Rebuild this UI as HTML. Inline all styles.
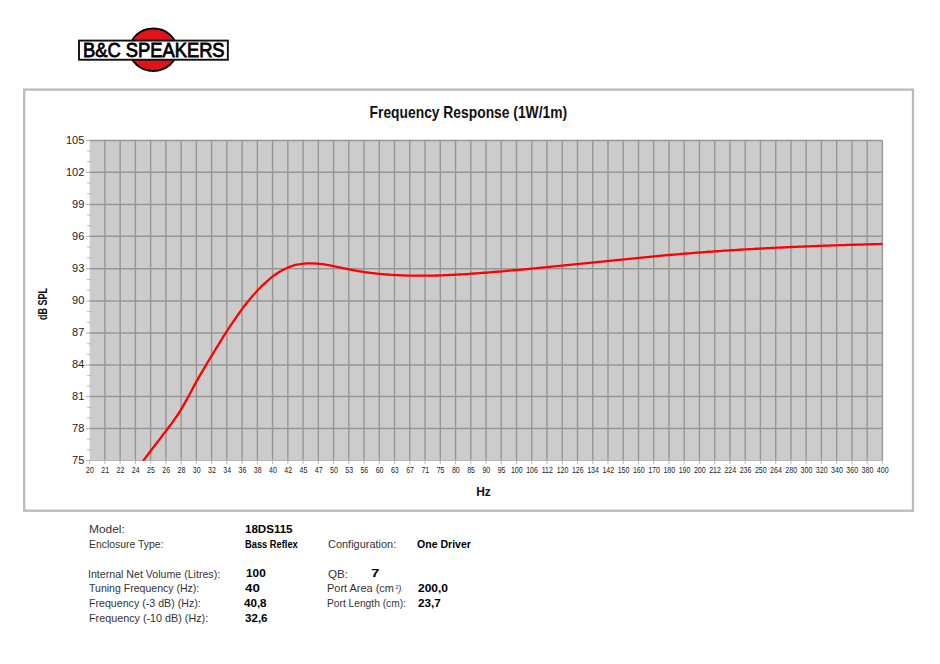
<!DOCTYPE html>
<html><head><meta charset="utf-8"><style>
html,body{margin:0;padding:0;background:#fff;}
body{width:940px;height:664px;position:relative;overflow:hidden;font-family:"Liberation Sans",sans-serif;}
svg{position:absolute;left:0;top:0;}
.xl{font-size:8.2px;fill:#222;text-anchor:middle;}
.yl{font-size:11px;fill:#222;text-anchor:end;}
.t{position:absolute;white-space:nowrap;color:#333;font-size:10.5px;line-height:12px;transform-origin:0 50%;}
.b{font-weight:bold;color:#000;font-size:11.2px;}
.s2{font-size:5px;position:relative;top:-3px;margin-left:1.5px;}
.s3{font-size:9px;font-style:italic;}
.s4{font-size:6px;font-style:italic;color:#777;}
</style></head><body>
<svg width="940" height="664" viewBox="0 0 940 664">
<g id="logo">
<ellipse cx="153.3" cy="49.75" rx="23.6" ry="21.2" fill="#e3121b" stroke="#000" stroke-width="1.9"/>
<rect x="79" y="40.6" width="148.85" height="19.15" fill="#fff" stroke="#111" stroke-width="1.9"/>
<text x="83.0" y="57.2" font-size="20" fill="#000" stroke="#000" stroke-width="0.8" textLength="141.6" lengthAdjust="spacingAndGlyphs">B&amp;C SPEAKERS</text>
</g>
<rect x="24.2" y="89.6" width="888.8" height="421.1" fill="none" stroke="#bababa" stroke-width="2.3"/><rect x="89.65" y="140.5" width="792.75" height="320.0" fill="#cccccc"/><path d="M104.90,140.5V460.5M120.14,140.5V460.5M135.39,140.5V460.5M150.63,140.5V460.5M165.88,140.5V460.5M181.12,140.5V460.5M196.37,140.5V460.5M211.61,140.5V460.5M226.86,140.5V460.5M242.10,140.5V460.5M257.35,140.5V460.5M272.59,140.5V460.5M287.84,140.5V460.5M303.08,140.5V460.5M318.33,140.5V460.5M333.57,140.5V460.5M348.82,140.5V460.5M364.06,140.5V460.5M379.31,140.5V460.5M394.55,140.5V460.5M409.80,140.5V460.5M425.04,140.5V460.5M440.29,140.5V460.5M455.53,140.5V460.5M470.78,140.5V460.5M486.02,140.5V460.5M501.27,140.5V460.5M516.52,140.5V460.5M531.76,140.5V460.5M547.01,140.5V460.5M562.25,140.5V460.5M577.50,140.5V460.5M592.74,140.5V460.5M607.99,140.5V460.5M623.23,140.5V460.5M638.48,140.5V460.5M653.72,140.5V460.5M668.97,140.5V460.5M684.21,140.5V460.5M699.46,140.5V460.5M714.70,140.5V460.5M729.95,140.5V460.5M745.19,140.5V460.5M760.44,140.5V460.5M775.68,140.5V460.5M790.93,140.5V460.5M806.17,140.5V460.5M821.42,140.5V460.5M836.66,140.5V460.5M851.91,140.5V460.5M867.15,140.5V460.5M882.40,140.5V460.5" stroke="#969696" stroke-width="1.4" fill="none"/><path d="M89.65,140.40H882.4M89.65,172.30H882.4M89.65,204.50H882.4M89.65,236.30H882.4M89.65,268.70H882.4M89.65,301.00H882.4M89.65,333.10H882.4M89.65,365.10H882.4M89.65,396.60H882.4M89.65,428.60H882.4" stroke="#969696" stroke-width="1.5" fill="none"/><path d="M86.15,140.40H89.65M86.15,172.30H89.65M86.15,204.50H89.65M86.15,236.30H89.65M86.15,268.70H89.65M86.15,301.00H89.65M86.15,333.10H89.65M86.15,365.10H89.65M86.15,396.60H89.65M86.15,428.60H89.65" stroke="#b5b5b5" stroke-width="1.2" fill="none"/><path d="M86.15,460.5H882.4" stroke="#b8b8b8" stroke-width="1.2" fill="none"/><path d="M89.65,460.5V464.0M104.90,460.5V464.0M120.14,460.5V464.0M135.39,460.5V464.0M150.63,460.5V464.0M165.88,460.5V464.0M181.12,460.5V464.0M196.37,460.5V464.0M211.61,460.5V464.0M226.86,460.5V464.0M242.10,460.5V464.0M257.35,460.5V464.0M272.59,460.5V464.0M287.84,460.5V464.0M303.08,460.5V464.0M318.33,460.5V464.0M333.57,460.5V464.0M348.82,460.5V464.0M364.06,460.5V464.0M379.31,460.5V464.0M394.55,460.5V464.0M409.80,460.5V464.0M425.04,460.5V464.0M440.29,460.5V464.0M455.53,460.5V464.0M470.78,460.5V464.0M486.02,460.5V464.0M501.27,460.5V464.0M516.52,460.5V464.0M531.76,460.5V464.0M547.01,460.5V464.0M562.25,460.5V464.0M577.50,460.5V464.0M592.74,460.5V464.0M607.99,460.5V464.0M623.23,460.5V464.0M638.48,460.5V464.0M653.72,460.5V464.0M668.97,460.5V464.0M684.21,460.5V464.0M699.46,460.5V464.0M714.70,460.5V464.0M729.95,460.5V464.0M745.19,460.5V464.0M760.44,460.5V464.0M775.68,460.5V464.0M790.93,460.5V464.0M806.17,460.5V464.0M821.42,460.5V464.0M836.66,460.5V464.0M851.91,460.5V464.0M867.15,460.5V464.0M882.40,460.5V464.0" stroke="#bbbbbb" stroke-width="1" fill="none"/><path d="M86.85,151.03H92.15M86.85,161.67H92.15M86.85,183.03H92.15M86.85,193.77H92.15M86.85,215.10H92.15M86.85,225.70H92.15M86.85,247.10H92.15M86.85,257.90H92.15M86.85,279.47H92.15M86.85,290.23H92.15M86.85,311.70H92.15M86.85,322.40H92.15M86.85,343.77H92.15M86.85,354.43H92.15M86.85,375.60H92.15M86.85,386.10H92.15M86.85,407.27H92.15M86.85,417.93H92.15M86.85,439.23H92.15M86.85,449.87H92.15" stroke="#bcbcbc" stroke-width="1" fill="none"/><clipPath id="pc"><rect x="89.65" y="100" width="794.75" height="360.8"/></clipPath><path d="M141.9,462.59 C143.6,460.35 145.2,458.13 146.9,455.91 C148.6,453.70 150.2,451.50 151.9,449.30 C153.6,447.11 155.2,444.92 156.9,442.74 C158.6,440.56 160.2,438.38 161.9,436.21 C163.6,434.03 165.2,431.86 166.9,429.69 C168.6,427.52 170.2,425.33 171.9,423.08 C173.6,420.82 175.2,418.49 176.9,416.02 C178.6,413.55 180.2,410.94 181.9,408.14 C183.6,405.33 185.2,402.35 186.9,399.28 C188.6,396.22 190.2,393.08 191.9,389.95 C193.6,386.83 195.2,383.73 196.9,380.75 C198.6,377.78 200.2,374.90 201.9,372.08 C203.6,369.25 205.2,366.47 206.9,363.69 C208.6,360.91 210.2,358.14 211.9,355.38 C213.6,352.62 215.2,349.88 216.9,347.16 C218.6,344.44 220.2,341.75 221.9,339.09 C223.6,336.43 225.2,333.80 226.9,331.21 C228.6,328.63 230.2,326.09 231.9,323.60 C233.6,321.11 235.2,318.67 236.9,316.30 C238.6,313.92 240.2,311.60 241.9,309.36 C243.6,307.11 245.2,304.94 246.9,302.83 C248.6,300.73 250.2,298.70 251.9,296.75 C253.6,294.80 255.2,292.92 256.9,291.13 C258.6,289.33 260.2,287.61 261.9,285.98 C263.6,284.35 265.2,282.79 266.9,281.33 C268.6,279.86 270.2,278.48 271.9,277.19 C273.6,275.89 275.2,274.69 276.9,273.58 C278.6,272.46 280.2,271.44 281.9,270.51 C283.6,269.59 285.2,268.75 286.9,268.02 C288.6,267.28 290.2,266.64 291.9,266.10 C293.6,265.55 295.2,265.10 296.9,264.73 C298.6,264.36 300.2,264.07 301.9,263.85 C303.6,263.64 305.2,263.49 306.9,263.41 C308.6,263.33 310.2,263.32 311.9,263.35 C313.6,263.39 315.2,263.49 316.9,263.62 C318.6,263.76 320.2,263.94 321.9,264.16 C323.6,264.38 325.2,264.63 326.9,264.91 C328.6,265.19 330.2,265.50 331.9,265.82 C333.6,266.15 335.2,266.49 336.9,266.84 C338.6,267.19 340.2,267.54 341.9,267.90 C343.6,268.25 345.2,268.61 346.9,268.95 C348.6,269.30 350.2,269.63 351.9,269.94 C353.6,270.26 355.2,270.56 356.9,270.84 C358.6,271.13 360.2,271.40 361.9,271.65 C363.6,271.91 365.2,272.15 366.9,272.38 C368.6,272.60 370.2,272.82 371.9,273.02 C373.6,273.22 375.2,273.41 376.9,273.58 C378.6,273.76 380.2,273.92 381.9,274.07 C383.6,274.23 385.2,274.37 386.9,274.49 C388.6,274.62 390.2,274.74 391.9,274.85 C393.6,274.95 395.2,275.05 396.9,275.13 C398.6,275.22 400.2,275.29 401.9,275.36 C403.6,275.43 405.2,275.48 406.9,275.53 C408.6,275.58 410.2,275.61 411.9,275.64 C413.6,275.67 415.2,275.69 416.9,275.70 C418.6,275.72 420.2,275.72 421.9,275.72 C423.6,275.71 425.2,275.70 426.9,275.68 C428.6,275.66 430.2,275.63 431.9,275.60 C433.6,275.57 435.2,275.52 436.9,275.48 C438.6,275.43 440.2,275.38 441.9,275.32 C443.6,275.26 445.2,275.19 446.9,275.12 C448.6,275.05 450.2,274.97 451.9,274.89 C453.6,274.81 455.2,274.72 456.9,274.63 C458.6,274.54 460.2,274.44 461.9,274.34 C463.6,274.24 465.2,274.13 466.9,274.03 C468.6,273.92 470.2,273.81 471.9,273.69 C473.6,273.57 475.2,273.46 476.9,273.33 C478.6,273.21 480.2,273.09 481.9,272.96 C483.6,272.83 485.2,272.70 486.9,272.57 C488.6,272.44 490.2,272.31 491.9,272.17 C493.6,272.04 495.2,271.90 496.9,271.76 C498.6,271.62 500.2,271.48 501.9,271.34 C503.6,271.20 505.2,271.06 506.9,270.91 C508.6,270.76 510.2,270.62 511.9,270.47 C513.6,270.32 515.2,270.17 516.9,270.02 C518.6,269.87 520.2,269.71 521.9,269.56 C523.6,269.41 525.2,269.25 526.9,269.09 C528.6,268.94 530.2,268.78 531.9,268.62 C533.6,268.46 535.2,268.30 536.9,268.14 C538.6,267.98 540.2,267.82 541.9,267.66 C543.6,267.49 545.2,267.33 546.9,267.16 C548.6,267.00 550.2,266.83 551.9,266.67 C553.6,266.50 555.2,266.33 556.9,266.17 C558.6,266.00 560.2,265.83 561.9,265.66 C563.6,265.49 565.2,265.32 566.9,265.15 C568.6,264.98 570.2,264.81 571.9,264.64 C573.6,264.47 575.2,264.30 576.9,264.13 C578.6,263.96 580.2,263.79 581.9,263.62 C583.6,263.45 585.2,263.27 586.9,263.10 C588.6,262.93 590.2,262.76 591.9,262.59 C593.6,262.42 595.2,262.24 596.9,262.07 C598.6,261.90 600.2,261.73 601.9,261.56 C603.6,261.39 605.2,261.22 606.9,261.05 C608.6,260.88 610.2,260.70 611.9,260.53 C613.6,260.36 615.2,260.20 616.9,260.03 C618.6,259.86 620.2,259.69 621.9,259.52 C623.6,259.35 625.2,259.19 626.9,259.02 C628.6,258.85 630.2,258.69 631.9,258.52 C633.6,258.36 635.2,258.19 636.9,258.03 C638.6,257.87 640.2,257.70 641.9,257.54 C643.6,257.38 645.2,257.22 646.9,257.06 C648.6,256.90 650.2,256.74 651.9,256.59 C653.6,256.43 655.2,256.27 656.9,256.12 C658.6,255.96 660.2,255.81 661.9,255.66 C663.6,255.51 665.2,255.36 666.9,255.21 C668.6,255.06 670.2,254.91 671.9,254.76 C673.6,254.62 675.2,254.47 676.9,254.33 C678.6,254.19 680.2,254.05 681.9,253.91 C683.6,253.77 685.2,253.63 686.9,253.50 C688.6,253.36 690.2,253.23 691.9,253.09 C693.6,252.96 695.2,252.83 696.9,252.70 C698.6,252.57 700.2,252.45 701.9,252.32 C703.6,252.19 705.2,252.07 706.9,251.95 C708.6,251.83 710.2,251.71 711.9,251.59 C713.6,251.47 715.2,251.35 716.9,251.24 C718.6,251.12 720.2,251.01 721.9,250.89 C723.6,250.78 725.2,250.67 726.9,250.56 C728.6,250.45 730.2,250.34 731.9,250.24 C733.6,250.13 735.2,250.03 736.9,249.92 C738.6,249.82 740.2,249.72 741.9,249.62 C743.6,249.52 745.2,249.42 746.9,249.32 C748.6,249.23 750.2,249.13 751.9,249.04 C753.6,248.94 755.2,248.85 756.9,248.76 C758.6,248.66 760.2,248.57 761.9,248.48 C763.6,248.40 765.2,248.31 766.9,248.22 C768.6,248.14 770.2,248.05 771.9,247.97 C773.6,247.88 775.2,247.80 776.9,247.72 C778.6,247.64 780.2,247.56 781.9,247.48 C783.6,247.40 785.2,247.32 786.9,247.25 C788.6,247.17 790.2,247.10 791.9,247.02 C793.6,246.95 795.2,246.88 796.9,246.80 C798.6,246.73 800.2,246.66 801.9,246.59 C803.6,246.52 805.2,246.45 806.9,246.39 C808.6,246.32 810.2,246.25 811.9,246.19 C813.6,246.12 815.2,246.06 816.9,246.00 C818.6,245.94 820.2,245.87 821.9,245.81 C823.6,245.75 825.2,245.69 826.9,245.63 C828.6,245.57 830.2,245.52 831.9,245.46 C833.6,245.40 835.2,245.35 836.9,245.29 C838.6,245.24 840.2,245.18 841.9,245.13 C843.6,245.07 845.2,245.02 846.9,244.97 C848.6,244.92 850.2,244.87 851.9,244.82 C853.6,244.77 855.2,244.72 856.9,244.67 C858.6,244.62 860.2,244.58 861.9,244.53 C863.6,244.48 865.2,244.44 866.9,244.39 C868.6,244.35 870.2,244.30 871.9,244.26 C873.6,244.21 875.2,244.17 876.9,244.13 C878.6,244.09 880.2,244.04 881.9,244.00 C882.0,244.00 882.1,244.00 882.2,244.00" clip-path="url(#pc)" stroke="#ff0000" stroke-width="2.3" fill="none" stroke-linejoin="round"/><text transform="translate(89.95 472.8) scale(0.86 1)" class="xl">20</text><text transform="translate(105.20 472.8) scale(0.86 1)" class="xl">21</text><text transform="translate(120.44 472.8) scale(0.86 1)" class="xl">22</text><text transform="translate(135.69 472.8) scale(0.86 1)" class="xl">24</text><text transform="translate(150.93 472.8) scale(0.86 1)" class="xl">25</text><text transform="translate(166.18 472.8) scale(0.86 1)" class="xl">26</text><text transform="translate(181.42 472.8) scale(0.86 1)" class="xl">28</text><text transform="translate(196.67 472.8) scale(0.86 1)" class="xl">30</text><text transform="translate(211.91 472.8) scale(0.86 1)" class="xl">32</text><text transform="translate(227.16 472.8) scale(0.86 1)" class="xl">34</text><text transform="translate(242.40 472.8) scale(0.86 1)" class="xl">36</text><text transform="translate(257.65 472.8) scale(0.86 1)" class="xl">38</text><text transform="translate(272.89 472.8) scale(0.86 1)" class="xl">40</text><text transform="translate(288.14 472.8) scale(0.86 1)" class="xl">42</text><text transform="translate(303.38 472.8) scale(0.86 1)" class="xl">45</text><text transform="translate(318.63 472.8) scale(0.86 1)" class="xl">47</text><text transform="translate(333.87 472.8) scale(0.86 1)" class="xl">50</text><text transform="translate(349.12 472.8) scale(0.86 1)" class="xl">53</text><text transform="translate(364.36 472.8) scale(0.86 1)" class="xl">56</text><text transform="translate(379.61 472.8) scale(0.86 1)" class="xl">60</text><text transform="translate(394.85 472.8) scale(0.86 1)" class="xl">63</text><text transform="translate(410.10 472.8) scale(0.86 1)" class="xl">67</text><text transform="translate(425.34 472.8) scale(0.86 1)" class="xl">71</text><text transform="translate(440.59 472.8) scale(0.86 1)" class="xl">75</text><text transform="translate(455.83 472.8) scale(0.86 1)" class="xl">80</text><text transform="translate(471.08 472.8) scale(0.86 1)" class="xl">85</text><text transform="translate(486.32 472.8) scale(0.86 1)" class="xl">90</text><text transform="translate(501.57 472.8) scale(0.86 1)" class="xl">95</text><text transform="translate(516.82 472.8) scale(0.86 1)" class="xl">100</text><text transform="translate(532.06 472.8) scale(0.86 1)" class="xl">106</text><text transform="translate(547.31 472.8) scale(0.86 1)" class="xl">112</text><text transform="translate(562.55 472.8) scale(0.86 1)" class="xl">120</text><text transform="translate(577.80 472.8) scale(0.86 1)" class="xl">126</text><text transform="translate(593.04 472.8) scale(0.86 1)" class="xl">134</text><text transform="translate(608.29 472.8) scale(0.86 1)" class="xl">142</text><text transform="translate(623.53 472.8) scale(0.86 1)" class="xl">150</text><text transform="translate(638.78 472.8) scale(0.86 1)" class="xl">160</text><text transform="translate(654.02 472.8) scale(0.86 1)" class="xl">170</text><text transform="translate(669.27 472.8) scale(0.86 1)" class="xl">180</text><text transform="translate(684.51 472.8) scale(0.86 1)" class="xl">190</text><text transform="translate(699.76 472.8) scale(0.86 1)" class="xl">200</text><text transform="translate(715.00 472.8) scale(0.86 1)" class="xl">212</text><text transform="translate(730.25 472.8) scale(0.86 1)" class="xl">224</text><text transform="translate(745.49 472.8) scale(0.86 1)" class="xl">236</text><text transform="translate(760.74 472.8) scale(0.86 1)" class="xl">250</text><text transform="translate(775.98 472.8) scale(0.86 1)" class="xl">264</text><text transform="translate(791.23 472.8) scale(0.86 1)" class="xl">280</text><text transform="translate(806.47 472.8) scale(0.86 1)" class="xl">300</text><text transform="translate(821.72 472.8) scale(0.86 1)" class="xl">320</text><text transform="translate(836.96 472.8) scale(0.86 1)" class="xl">340</text><text transform="translate(852.21 472.8) scale(0.86 1)" class="xl">360</text><text transform="translate(867.45 472.8) scale(0.86 1)" class="xl">380</text><text transform="translate(882.70 472.8) scale(0.86 1)" class="xl">400</text><text x="84.3" y="143.60" class="yl">105</text><text x="84.3" y="175.50" class="yl">102</text><text x="84.3" y="207.70" class="yl">99</text><text x="84.3" y="239.50" class="yl">96</text><text x="84.3" y="271.90" class="yl">93</text><text x="84.3" y="304.20" class="yl">90</text><text x="84.3" y="336.30" class="yl">87</text><text x="84.3" y="368.30" class="yl">84</text><text x="84.3" y="399.80" class="yl">81</text><text x="84.3" y="431.80" class="yl">78</text><text x="84.3" y="463.70" class="yl">75</text>
<text x="369.6" y="118.1" font-size="16.5" font-weight="bold" fill="#111" textLength="197.5" lengthAdjust="spacingAndGlyphs">Frequency Response (1W/1m)</text>
<text x="483.5" y="495.6" font-size="12" font-weight="bold" fill="#111" text-anchor="middle">Hz</text>
<text transform="translate(47.4,320) rotate(-90)" font-size="12.5" font-weight="bold" fill="#111" textLength="32" lengthAdjust="spacingAndGlyphs">dB SPL</text>
</svg>
<div id="it0" class="t" style="left:88.54px;top:523.22px;transform:scaleX(1.1363)">Model:</div>
<div id="it1" class="t" style="left:88.89px;top:538.22px;transform:scaleX(0.9912)">Enclosure Type:</div>
<div id="it2" class="t b" style="left:244.99px;top:522.97px;transform:scaleX(1.0328)">18DS115</div>
<div id="it3" class="t b" style="left:245.30px;top:537.97px;transform:scaleX(0.8321)">Bass Reflex</div>
<div id="it4" class="t" style="left:327.81px;top:538.22px;transform:scaleX(1.0431)">Configuration:</div>
<div id="it5" class="t b" style="left:417.05px;top:537.97px;transform:scaleX(0.9425)">One Driver</div>
<div id="it6" class="t" style="left:88.23px;top:567.62px;transform:scaleX(1.0106)">Internal Net Volume (Litres):</div>
<div id="it7" class="t" style="left:88.99px;top:582.12px;transform:scaleX(1.0034)">Tuning Frequency (Hz):</div>
<div id="it8" class="t" style="left:88.66px;top:597.02px;transform:scaleX(1.0131)">Frequency (-3 dB) (Hz):</div>
<div id="it9" class="t" style="left:88.65px;top:611.92px;transform:scaleX(1.0260)">Frequency (-10 dB) (Hz):</div>
<div id="it10" class="t b" style="left:246.25px;top:567.37px;transform:scaleX(1.0567)">100</div>
<div id="it11" class="t b" style="left:244.84px;top:581.87px;transform:scaleX(1.1884)">40</div>
<div id="it12" class="t b" style="left:244.42px;top:596.77px;transform:scaleX(1.0361)">40,8</div>
<div id="it13" class="t b" style="left:245.14px;top:611.67px;transform:scaleX(1.0368)">32,6</div>
<div id="it14" class="t" style="left:327.59px;top:567.62px;transform:scaleX(1.1123)">QB:</div>
<div id="it15" class="t b" style="left:370.72px;top:567.37px;transform:scaleX(1.3439)">7</div>
<div id="it16" class="t" style="left:327.44px;top:582.12px;transform:scaleX(1.0422)">Port Area (cm<span class="s2">2</span><span class="s3">)</span><span class="s4">:</span></div>
<div id="it17" class="t" style="left:327.09px;top:597.02px;transform:scaleX(0.9727)">Port Length (cm):</div>
<div id="it18" class="t b" style="left:417.52px;top:581.87px;transform:scaleX(1.0721)">200,0</div>
<div id="it19" class="t b" style="left:417.68px;top:596.77px;transform:scaleX(1.0488)">23,7</div>
</body></html>
